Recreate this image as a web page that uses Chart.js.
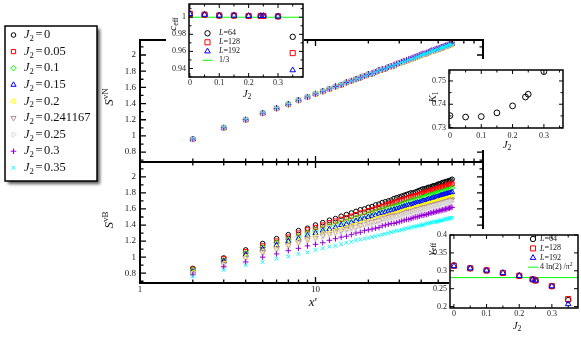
<!DOCTYPE html>
<html>
<head>
<meta charset="utf-8">
<title>S vs x' for several J2</title>
<script src="https://cdn.jsdelivr.net/npm/chart.js@4.4.1/dist/chart.umd.min.js"></script>
<style>
  html, body { margin: 0; padding: 0; background: #fff; }
  #wrap { position: relative; width: 581px; height: 337px; overflow: hidden; }
  #wrap canvas { position: absolute; left: -20px; top: -20px; }
</style>
</head>
<body>
<div id="wrap">
  <canvas id="svn" width="621" height="377"></canvas>
  <canvas id="svb" width="621" height="377"></canvas>
  <canvas id="ceff" width="621" height="377"></canvas>
  <canvas id="k1" width="621" height="377"></canvas>
  <canvas id="gamma" width="621" height="377"></canvas>
</div>
<script>
// ---- data ----
const xPrime = [2, 3, 4, 5, 6, 7, 8, 9, 10,
  11, 12, 13, 14, 15, 16, 17, 18, 19, 20,
  21, 22, 23, 24, 25, 26, 27, 28, 29, 30,
  31, 32, 33, 34, 35, 36, 37, 38, 39, 40,
  41, 42, 43, 44, 45, 46, 47, 48, 49, 50,
  51, 52, 53, 54, 55, 56, 57, 58, 59, 60];
const j2Labels = ['0', '0.05', '0.1', '0.15', '0.2', '0.241167', '0.25', '0.3', '0.35'];

// top panel, S^vN (the curves for J2 <= 0.25 fall on top of each other)
const svnCommon = [0.96, 1.10, 1.20, 1.28, 1.34, 1.39, 1.44, 1.48, 1.52,
  1.55, 1.58, 1.61, 1.63, 1.66, 1.68, 1.70, 1.72, 1.74, 1.76,
  1.77, 1.79, 1.81, 1.82, 1.83, 1.85, 1.86, 1.87, 1.89, 1.90,
  1.91, 1.92, 1.93, 1.94, 1.95, 1.96, 1.97, 1.98, 1.99, 2.00,
  2.01, 2.01, 2.02, 2.03, 2.04, 2.05, 2.05, 2.06, 2.07, 2.07,
  2.08, 2.09, 2.09, 2.10, 2.11, 2.11, 2.12, 2.13, 2.13, 2.14];
const svnJ03 = [0.96, 1.10, 1.20, 1.28, 1.34, 1.39, 1.44, 1.48, 1.52,
  1.55, 1.58, 1.61, 1.63, 1.66, 1.68, 1.70, 1.72, 1.74, 1.76,
  1.77, 1.79, 1.81, 1.82, 1.83, 1.85, 1.86, 1.87, 1.89, 1.90,
  1.92, 1.93, 1.94, 1.95, 1.96, 1.97, 1.98, 1.99, 2.00, 2.01,
  2.02, 2.02, 2.03, 2.04, 2.05, 2.06, 2.06, 2.07, 2.08, 2.08,
  2.09, 2.10, 2.10, 2.11, 2.12, 2.12, 2.13, 2.14, 2.14, 2.15];
const svnJ035 = [0.97, 1.11, 1.21, 1.29, 1.35, 1.40, 1.45, 1.49, 1.53,
  1.56, 1.59, 1.61, 1.64, 1.66, 1.68, 1.70, 1.72, 1.74, 1.76,
  1.77, 1.79, 1.81, 1.82, 1.83, 1.85, 1.86, 1.87, 1.89, 1.90,
  1.91, 1.92, 1.93, 1.94, 1.95, 1.96, 1.97, 1.98, 1.99, 2.00,
  2.01, 2.01, 2.02, 2.03, 2.04, 2.05, 2.05, 2.06, 2.07, 2.07,
  2.08, 2.09, 2.09, 2.10, 2.11, 2.11, 2.12, 2.13, 2.13, 2.14];

// bottom panel, S^vB
const svbJ0 = [0.86, 0.99, 1.09, 1.17, 1.23, 1.28, 1.33, 1.36, 1.40,
  1.43, 1.46, 1.48, 1.51, 1.53, 1.55, 1.57, 1.59, 1.60, 1.62,
  1.63, 1.65, 1.66, 1.68, 1.69, 1.70, 1.71, 1.73, 1.74, 1.75,
  1.76, 1.77, 1.78, 1.79, 1.80, 1.80, 1.81, 1.82, 1.83, 1.84,
  1.85, 1.85, 1.86, 1.87, 1.87, 1.88, 1.89, 1.89, 1.90, 1.91,
  1.91, 1.92, 1.93, 1.93, 1.94, 1.94, 1.95, 1.95, 1.96, 1.97];
const svbJ005 = [0.85, 0.98, 1.07, 1.14, 1.20, 1.25, 1.30, 1.34, 1.37,
  1.40, 1.43, 1.45, 1.47, 1.49, 1.51, 1.53, 1.55, 1.56, 1.58,
  1.59, 1.61, 1.62, 1.63, 1.65, 1.66, 1.67, 1.68, 1.69, 1.70,
  1.71, 1.72, 1.73, 1.74, 1.75, 1.76, 1.76, 1.77, 1.78, 1.79,
  1.80, 1.80, 1.81, 1.82, 1.82, 1.83, 1.84, 1.84, 1.85, 1.86,
  1.86, 1.87, 1.87, 1.88, 1.88, 1.89, 1.90, 1.90, 1.91, 1.91];
const svbJ01 = [0.84, 0.96, 1.05, 1.12, 1.18, 1.22, 1.26, 1.30, 1.33,
  1.36, 1.39, 1.41, 1.43, 1.45, 1.47, 1.49, 1.50, 1.52, 1.54,
  1.55, 1.56, 1.58, 1.59, 1.60, 1.61, 1.62, 1.63, 1.64, 1.65,
  1.66, 1.67, 1.68, 1.69, 1.70, 1.71, 1.71, 1.72, 1.73, 1.74,
  1.74, 1.75, 1.76, 1.77, 1.77, 1.78, 1.78, 1.79, 1.80, 1.80,
  1.81, 1.81, 1.82, 1.82, 1.83, 1.83, 1.84, 1.84, 1.85, 1.86];
const svbJ015 = [0.82, 0.95, 1.03, 1.10, 1.15, 1.20, 1.23, 1.27, 1.30,
  1.33, 1.35, 1.37, 1.40, 1.41, 1.43, 1.45, 1.47, 1.48, 1.50,
  1.51, 1.52, 1.54, 1.55, 1.56, 1.57, 1.58, 1.59, 1.60, 1.61,
  1.62, 1.63, 1.64, 1.65, 1.65, 1.66, 1.67, 1.68, 1.68, 1.69,
  1.70, 1.70, 1.71, 1.72, 1.72, 1.73, 1.74, 1.74, 1.75, 1.75,
  1.76, 1.77, 1.77, 1.78, 1.78, 1.79, 1.79, 1.80, 1.80, 1.81];
const svbJ02 = [0.81, 0.92, 1.00, 1.07, 1.12, 1.16, 1.20, 1.23, 1.26,
  1.29, 1.31, 1.33, 1.35, 1.37, 1.39, 1.41, 1.42, 1.44, 1.45,
  1.46, 1.48, 1.49, 1.50, 1.51, 1.52, 1.53, 1.54, 1.55, 1.56,
  1.57, 1.58, 1.59, 1.60, 1.60, 1.61, 1.62, 1.63, 1.63, 1.64,
  1.65, 1.65, 1.66, 1.67, 1.67, 1.68, 1.68, 1.69, 1.70, 1.70,
  1.71, 1.71, 1.72, 1.72, 1.73, 1.73, 1.74, 1.74, 1.75, 1.75];
const svbJ0241 = [0.80, 0.91, 0.99, 1.06, 1.10, 1.15, 1.18, 1.22, 1.24,
  1.27, 1.29, 1.31, 1.33, 1.35, 1.37, 1.38, 1.40, 1.41, 1.43,
  1.44, 1.45, 1.46, 1.48, 1.49, 1.50, 1.51, 1.52, 1.52, 1.53,
  1.54, 1.55, 1.56, 1.57, 1.57, 1.58, 1.59, 1.60, 1.60, 1.61,
  1.62, 1.62, 1.63, 1.63, 1.64, 1.65, 1.65, 1.66, 1.66, 1.67,
  1.67, 1.68, 1.68, 1.69, 1.69, 1.70, 1.70, 1.71, 1.71, 1.72];
const svbJ025 = [0.79, 0.90, 0.98, 1.04, 1.09, 1.13, 1.17, 1.20, 1.23,
  1.25, 1.28, 1.30, 1.32, 1.33, 1.35, 1.37, 1.38, 1.40, 1.41,
  1.42, 1.43, 1.44, 1.46, 1.47, 1.48, 1.49, 1.49, 1.50, 1.51,
  1.52, 1.53, 1.54, 1.54, 1.55, 1.56, 1.57, 1.57, 1.58, 1.59,
  1.59, 1.60, 1.60, 1.61, 1.62, 1.62, 1.63, 1.63, 1.64, 1.64,
  1.65, 1.65, 1.66, 1.66, 1.67, 1.67, 1.68, 1.68, 1.69, 1.69];
const svbJ03 = [0.78, 0.88, 0.94, 1.00, 1.04, 1.08, 1.11, 1.14, 1.16,
  1.18, 1.21, 1.23, 1.25, 1.26, 1.28, 1.30, 1.31, 1.33, 1.34,
  1.35, 1.36, 1.37, 1.39, 1.40, 1.41, 1.42, 1.42, 1.43, 1.44,
  1.45, 1.46, 1.47, 1.47, 1.48, 1.49, 1.50, 1.50, 1.51, 1.52,
  1.52, 1.53, 1.53, 1.54, 1.55, 1.55, 1.56, 1.56, 1.57, 1.57,
  1.58, 1.58, 1.59, 1.59, 1.60, 1.60, 1.61, 1.61, 1.62, 1.62];
const svbJ035 = [0.76, 0.84, 0.90, 0.94, 0.98, 1.01, 1.04, 1.06, 1.09,
  1.11, 1.13, 1.14, 1.16, 1.18, 1.19, 1.21, 1.22, 1.23, 1.24,
  1.25, 1.26, 1.27, 1.28, 1.29, 1.30, 1.31, 1.32, 1.33, 1.33,
  1.34, 1.35, 1.36, 1.36, 1.37, 1.38, 1.38, 1.39, 1.39, 1.40,
  1.40, 1.41, 1.42, 1.42, 1.43, 1.43, 1.44, 1.44, 1.44, 1.45,
  1.45, 1.46, 1.46, 1.47, 1.47, 1.48, 1.48, 1.48, 1.49, 1.49];

// insets
const j2Values = [0, 0.05, 0.1, 0.15, 0.2, 0.241167, 0.25, 0.3, 0.35];
const ceffL64 = [1.004, 1.003, 1.002, 1.002, 1.0015, 1.0015, 1.0015, 1.001, 0.977];
const ceffL128 = [1.004, 1.003, 1.002, 1.002, 1.0015, 1.0015, 1.0015, 1.001, 0.958];
const ceffL192 = [1.004, 1.003, 1.002, 1.002, 1.0015, 1.0015, 1.0015, 1.001, 0.938];
const ceffRef = 1;
const k1J2 = [0, 0.05, 0.1, 0.15, 0.2, 0.241167, 0.25, 0.3];
const k1Values = [0.7351, 0.7345, 0.7347, 0.7363, 0.7393, 0.7431, 0.7443, 0.7540];
const gammaL64 = [0.315, 0.307, 0.301, 0.294, 0.286, 0.276, 0.273, 0.257, 0.218];
const gammaL128 = [0.314, 0.307, 0.301, 0.294, 0.286, 0.276, 0.273, 0.257, 0.221];
const gammaL192 = [0.313, 0.307, 0.301, 0.294, 0.286, 0.276, 0.273, 0.257, 0.207];
const gammaRef = 0.281;

// ticks
const mainYTicks = [0.8, 1, 1.2, 1.4, 1.6, 1.8, 2];
const mainYMinor = [0.7, 0.9, 1.1, 1.3, 1.5, 1.7, 1.9, 2.1];
const mainXMajor = [1, 10];
const mainXMinor = [2, 3, 4, 5, 6, 7, 8, 9, 20, 30, 40, 50, 60, 70, 80, 90];
const insetXTicks = [0, 0.1, 0.2, 0.3];
const insetXMinor = [0.05, 0.15, 0.25, 0.35];
const ceffYTicks = [0.94, 0.96, 0.98, 1];
const ceffYMinor = [0.93, 0.95, 0.97, 0.99, 1.01];
const k1YTicks = [0.73, 0.74, 0.75];
const k1YMinor = [0.735, 0.745];
const gammaYTicks = [0.2, 0.25, 0.3, 0.35, 0.4];

// ---- styles ----
const OFF = 20, W = 581, H = 337;
const SERIF = '"Liberation Serif", "DejaVu Serif", serif';
const seriesColors = ['#000000', '#ff0000', '#00ff00', '#0000ff', '#ffff00', '#bc8f8f', '#dcdcdc', '#9400d3', '#00ffff'];
const seriesStyles = ['circle', 'rect', 'rectRot', 'triangle', 'triangle', 'triangle', 'triangle', 'cross', 'crossRot'];
const seriesRot = [0, 0, 0, 0, -90, 180, 90, 0, 0];
const seriesRadius = [2.3, 3, 2.8, 3, 3, 3, 3, 2.8, 2.6];
const sizeStyles = [
  { label: '64', style: 'circle', color: '#000000', r: 2.7 },
  { label: '128', style: 'rect', color: '#ff0000', r: 3.6 },
  { label: '192', style: 'triangle', color: '#0000ff', r: 3.2 }
];

function pad(area, yw, xh) {
  return { left: area[0] + OFF - yw, top: area[1] + OFF, right: W + OFF - area[2], bottom: H + OFF - area[3] - xh };
}

function drawRich(ctx, s) {
  const size = s.size;
  const fontOf = p => (p.i ? 'italic ' : '') + ((p.sub || p.sup) ? (size * 0.7).toFixed(1) : size) + 'px ' + SERIF;
  ctx.save();
  ctx.translate(s.x + OFF, s.y + OFF);
  if (s.rot) ctx.rotate(s.rot);
  ctx.fillStyle = s.color || '#111';
  ctx.textBaseline = 'middle';
  const widths = s.parts.map(p => { ctx.font = fontOf(p); return ctx.measureText(p.t).width + (p.gap || 0) * 2; });
  const total = widths.reduce((a, b) => a + b, 0);
  let x = s.align === 'left' ? 0 : -total / 2;
  s.parts.forEach((p, k) => {
    ctx.font = fontOf(p);
    const dy = p.sub ? size * 0.3 : p.sup ? -size * 0.35 : 0;
    ctx.fillText(p.t, x + (p.gap || 0), dy);
    x += widths[k];
  });
  ctx.restore();
}

function drawMarker(ctx, it, x, y) {
  if (Chart.helpers && Chart.helpers.drawPoint) {
    Chart.helpers.drawPoint(ctx, { pointStyle: it.style, rotation: it.rot || 0, radius: it.r, borderWidth: 1 }, x, y);
  } else {
    ctx.beginPath(); ctx.arc(x, y, it.r, 0, Math.PI * 2); ctx.stroke();
  }
}

function drawLegend(ctx, lg) {
  if (lg.box) {
    const [x0, y0, x1, y1] = lg.box;
    ctx.save();
    ctx.shadowColor = 'rgba(0,0,0,0.65)';
    ctx.shadowBlur = 3; ctx.shadowOffsetX = 3; ctx.shadowOffsetY = 3;
    ctx.fillStyle = '#fff';
    ctx.fillRect(x0 + OFF, y0 + OFF, x1 - x0, y1 - y0);
    ctx.restore();
    ctx.save();
    ctx.strokeStyle = '#000'; ctx.lineWidth = 1.5;
    ctx.strokeRect(x0 + OFF, y0 + OFF, x1 - x0, y1 - y0);
    ctx.restore();
  }
  lg.items.forEach((it, k) => {
    const y = lg.y + k * lg.dy;
    ctx.save();
    ctx.strokeStyle = it.color; ctx.fillStyle = 'rgba(0,0,0,0)'; ctx.lineWidth = 1;
    if (it.line) {
      ctx.beginPath();
      ctx.moveTo(lg.symX + OFF - it.line / 2, y + OFF);
      ctx.lineTo(lg.symX + OFF + it.line / 2, y + OFF);
      ctx.stroke();
    } else {
      drawMarker(ctx, it, lg.symX + OFF, y + OFF);
    }
    ctx.restore();
    drawRich(ctx, { x: lg.textX, y: y, size: lg.size, align: 'left', parts: it.parts });
  });
}

// frame, inner ticks, titles and legend for one chart
function decor(spec) {
  return {
    id: 'decor',
    beforeDraw(chart) {
      if (!spec.white) return;
      const [x0, y0, x1, y1] = spec.white;
      const ctx = chart.ctx;
      ctx.save(); ctx.fillStyle = '#fff';
      ctx.fillRect(x0 + OFF, y0 + OFF, x1 - x0, y1 - y0);
      ctx.restore();
    },
    afterDraw(chart) {
      const { ctx, chartArea: a } = chart;
      const xs = chart.scales.x, ys = chart.scales.y;
      ctx.save();
      ctx.strokeStyle = '#000';
      ctx.lineWidth = spec.tickWidth;
      ctx.beginPath();
      const xTick = (v, len) => {
        const p = xs.getPixelForValue(v);
        if (p < a.left - 0.5 || p > a.right + 0.5) return;
        ctx.moveTo(p, a.top); ctx.lineTo(p, a.top + len);
        ctx.moveTo(p, a.bottom); ctx.lineTo(p, a.bottom - len);
      };
      const yTick = (v, len) => {
        const p = ys.getPixelForValue(v);
        if (p < a.top - 0.5 || p > a.bottom + 0.5) return;
        ctx.moveTo(a.left, p); ctx.lineTo(a.left + len, p);
        ctx.moveTo(a.right, p); ctx.lineTo(a.right - len, p);
      };
      (spec.xMajor || []).forEach(v => xTick(v, spec.major));
      (spec.xMinor || []).forEach(v => xTick(v, spec.minor));
      (spec.yMajor || []).forEach(v => yTick(v, spec.major));
      (spec.yMinor || []).forEach(v => yTick(v, spec.minor));
      ctx.stroke();
      ctx.lineWidth = spec.frame;
      ctx.strokeRect(a.left, a.top, a.right - a.left, a.bottom - a.top);
      ctx.restore();
      (spec.texts || []).forEach(t => drawRich(ctx, t));
      if (spec.legend) drawLegend(ctx, spec.legend);
    }
  };
}

function yAxis(min, max, ticks, size, fit, padding) {
  return {
    type: 'linear', min: min, max: max,
    afterFit: s => { s.width = fit; },
    afterBuildTicks: s => { s.ticks = ticks.map(v => ({ value: v })); },
    grid: { display: false, drawTicks: false },
    border: { display: false },
    ticks: { autoSkip: false, padding: padding, color: '#222', font: { family: SERIF, size: size },
      callback: v => String(+Number(v).toFixed(3)) }
  };
}

function xAxis(min, max, ticks, size, fit, padding) {
  return {
    type: 'linear', min: min, max: max,
    afterFit: s => { s.height = fit; },
    afterBuildTicks: s => { s.ticks = ticks.map(v => ({ value: v })); },
    grid: { display: false, drawTicks: false },
    border: { display: false },
    ticks: { autoSkip: false, maxRotation: 0, padding: padding, color: '#222', font: { family: SERIF, size: size },
      callback: v => String(+Number(v).toFixed(3)) }
  };
}

const baseOptions = {
  responsive: false, animation: false, events: [], devicePixelRatio: 1,
  plugins: { legend: { display: false }, tooltip: { enabled: false } }
};

function mainDatasets(values) {
  return values.map((ys, i) => ({
    label: 'J2=' + j2Labels[i],
    data: xPrime.map((x, k) => ({ x: x, y: ys[k] })),
    pointStyle: seriesStyles[i],
    pointRotation: seriesRot[i],
    pointRadius: seriesRadius[i],
    pointBorderWidth: 1,
    pointBorderColor: seriesColors[i],
    pointBackgroundColor: 'rgba(0,0,0,0)',
    borderColor: seriesColors[i],
    showLine: false,
    order: values.length - 1 - i
  }));
}

const jParts = lab => [{ t: 'J', i: 1 }, { t: '2', sub: 1 }, { t: '=', gap: 1.5 }, { t: lab }];

const svnSeries = [svnCommon, svnCommon, svnCommon, svnCommon, svnCommon, svnCommon, svnCommon, svnJ03, svnJ035];
const svbSeries = [svbJ0, svbJ005, svbJ01, svbJ015, svbJ02, svbJ0241, svbJ025, svbJ03, svbJ035];

const mainYMin = 0.678, mainYMax = 2.185;
const mainTicks = { frame: 2, tickWidth: 1.3, major: 6, minor: 3.5,
  xMajor: mainXMajor, xMinor: mainXMinor, yMajor: mainYTicks, yMinor: mainYMinor };

// ---- top panel ----
new Chart(document.getElementById('svn'), {
  type: 'scatter',
  data: { datasets: mainDatasets(svnSeries) },
  options: Object.assign({}, baseOptions, {
    layout: { padding: pad([140, 40, 483, 162], 30, 0) },
    scales: {
      x: { type: 'logarithmic', min: 1, max: 90, display: false },
      y: yAxis(mainYMin, mainYMax, mainYTicks, 9, 30, 4)
    }
  }),
  plugins: [decor(Object.assign({}, mainTicks, {
    texts: [{ x: 110, y: 97, size: 13, rot: -Math.PI / 2, parts: [{ t: 'S', i: 1 }, { t: 'vN', sup: 1 }] }],
    legend: {
      box: [5, 26, 97, 181], symX: 13.5, textX: 24, y: 35, dy: 16.6, size: 12.5,
      items: j2Labels.map((lab, i) => ({ style: seriesStyles[i], rot: seriesRot[i], r: seriesRadius[i], color: seriesColors[i], parts: jParts(lab) }))
    }
  }))]
});

// ---- bottom panel ----
new Chart(document.getElementById('svb'), {
  type: 'scatter',
  data: { datasets: mainDatasets(svbSeries) },
  options: Object.assign({}, baseOptions, {
    layout: { padding: pad([140, 162, 483, 283], 30, 40) },
    scales: {
      x: {
        type: 'logarithmic', min: 1, max: 90,
        afterFit: s => { s.height = 40; },
        afterBuildTicks: s => { s.ticks = mainXMajor.concat(mainXMinor).map(v => ({ value: v })); },
        grid: { display: false, drawTicks: false },
        border: { display: false },
        ticks: { autoSkip: false, maxRotation: 0, padding: 1, color: '#222', font: { family: SERIF, size: 9 },
          callback: v => mainXMajor.includes(v) ? String(v) : '' }
      },
      y: yAxis(mainYMin, mainYMax, mainYTicks, 9, 30, 4)
    }
  }),
  plugins: [decor(Object.assign({}, mainTicks, {
    texts: [
      { x: 110, y: 220, size: 13, rot: -Math.PI / 2, parts: [{ t: 'S', i: 1 }, { t: 'vB', sup: 1 }] },
      { x: 313, y: 303, size: 13, parts: [{ t: 'x', i: 1 }, { t: '\u2032' }] }
    ]
  }))]
});

// ---- insets ----
function sizeDatasets(xs, lists, ref, xMin, xMax) {
  const sets = lists.map((ys, i) => ({
    label: 'L=' + sizeStyles[i].label,
    data: xs.map((x, k) => ({ x: x, y: ys[k] })),
    pointStyle: sizeStyles[i].style,
    pointRadius: sizeStyles[i].r,
    pointBorderWidth: 1,
    pointBorderColor: sizeStyles[i].color,
    pointBackgroundColor: 'rgba(0,0,0,0)',
    showLine: false,
    order: lists.length - 1 - i
  }));
  sets.push({
    label: 'ref', data: [{ x: xMin, y: ref }, { x: xMax, y: ref }],
    showLine: true, pointRadius: 0, borderColor: '#00ff00', borderWidth: 1, order: lists.length
  });
  return sets;
}

function sizeLegend(symX, textX, y, dy, lastParts) {
  const items = sizeStyles.map(s => ({ style: s.style, r: s.r, color: s.color, parts: [{ t: 'L', i: 1 }, { t: '=' + s.label }] }));
  items.push({ line: 10, color: '#00ff00', parts: lastParts });
  return { symX: symX, textX: textX, y: y, dy: dy, size: 8, items: items };
}

const insetTicks = { frame: 1.5, tickWidth: 1, major: 4, minor: 2.5, xMajor: insetXTicks, xMinor: insetXMinor };

// c_eff
new Chart(document.getElementById('ceff'), {
  type: 'scatter',
  data: { datasets: sizeDatasets(j2Values, [ceffL64, ceffL128, ceffL192], ceffRef, -0.003, 0.385) },
  options: Object.assign({}, baseOptions, {
    layout: { padding: pad([189, 4, 303, 77], 25, 20) },
    scales: {
      x: xAxis(-0.003, 0.385, insetXTicks, 8, 20, 1),
      y: yAxis(0.93, 1.0155, ceffYTicks, 8, 25, 3)
    }
  }),
  plugins: [decor(Object.assign({}, insetTicks, {
    yMajor: ceffYTicks, yMinor: ceffYMinor,
    white: [166, 0, 304, 88],
    texts: [
      { x: 173, y: 24, size: 11, rot: -Math.PI / 2, parts: [{ t: 'c', i: 1 }, { t: 'eff', sub: 1 }] },
      { x: 247, y: 94, size: 11, parts: [{ t: 'J', i: 1 }, { t: '2', sub: 1 }] }
    ],
    legend: sizeLegend(207.5, 219, 33.3, 9, [{ t: '1/3' }])
  }))]
});

// K1
new Chart(document.getElementById('k1'), {
  type: 'scatter',
  data: { datasets: [{
    label: 'K1', data: k1J2.map((x, k) => ({ x: x, y: k1Values[k] })),
    pointStyle: 'circle', pointRadius: 2.9, pointBorderWidth: 1,
    pointBorderColor: '#000', pointBackgroundColor: 'rgba(0,0,0,0)', showLine: false
  }] },
  options: Object.assign({}, baseOptions, {
    layout: { padding: pad([449, 70, 563, 128], 25, 20) },
    scales: {
      x: xAxis(-0.003, 0.361, insetXTicks, 8, 20, 3),
      y: yAxis(0.7298, 0.7547, k1YTicks, 8, 25, 3)
    }
  }),
  plugins: [decor(Object.assign({}, insetTicks, {
    yMajor: k1YTicks, yMinor: k1YMinor,
    white: [440, 59, 581, 150],
    texts: [
      { x: 433, y: 97, size: 11, rot: -Math.PI / 2, parts: [{ t: 'K', i: 1 }, { t: '1', sub: 1 }] },
      { x: 507, y: 145, size: 11, parts: [{ t: 'J', i: 1 }, { t: '2', sub: 1 }] }
    ]
  }))]
});

// gamma_eff
new Chart(document.getElementById('gamma'), {
  type: 'scatter',
  data: { datasets: sizeDatasets(j2Values, [gammaL64, gammaL128, gammaL192], gammaRef, -0.012, 0.38) },
  options: Object.assign({}, baseOptions, {
    layout: { padding: pad([450, 235, 578, 308], 25, 20) },
    scales: {
      x: xAxis(-0.012, 0.38, insetXTicks, 8, 20, 1.5),
      y: yAxis(0.196, 0.4, gammaYTicks, 8, 25, 3)
    }
  }),
  plugins: [decor(Object.assign({}, insetTicks, {
    yMajor: gammaYTicks,
    white: [449, 229, 581, 337],
    texts: [
      { x: 431, y: 249, size: 11, rot: -Math.PI / 2, parts: [{ t: '\u03b3', i: 1 }, { t: 'eff', sub: 1 }] },
      { x: 517, y: 326, size: 11, parts: [{ t: 'J', i: 1 }, { t: '2', sub: 1 }] }
    ],
    legend: sizeLegend(533, 540, 239, 9.4, [{ t: '4 ln(2) /\u03c0' }, { t: '2', sup: 1 }])
  }))]
});
</script>
</body>
</html>
